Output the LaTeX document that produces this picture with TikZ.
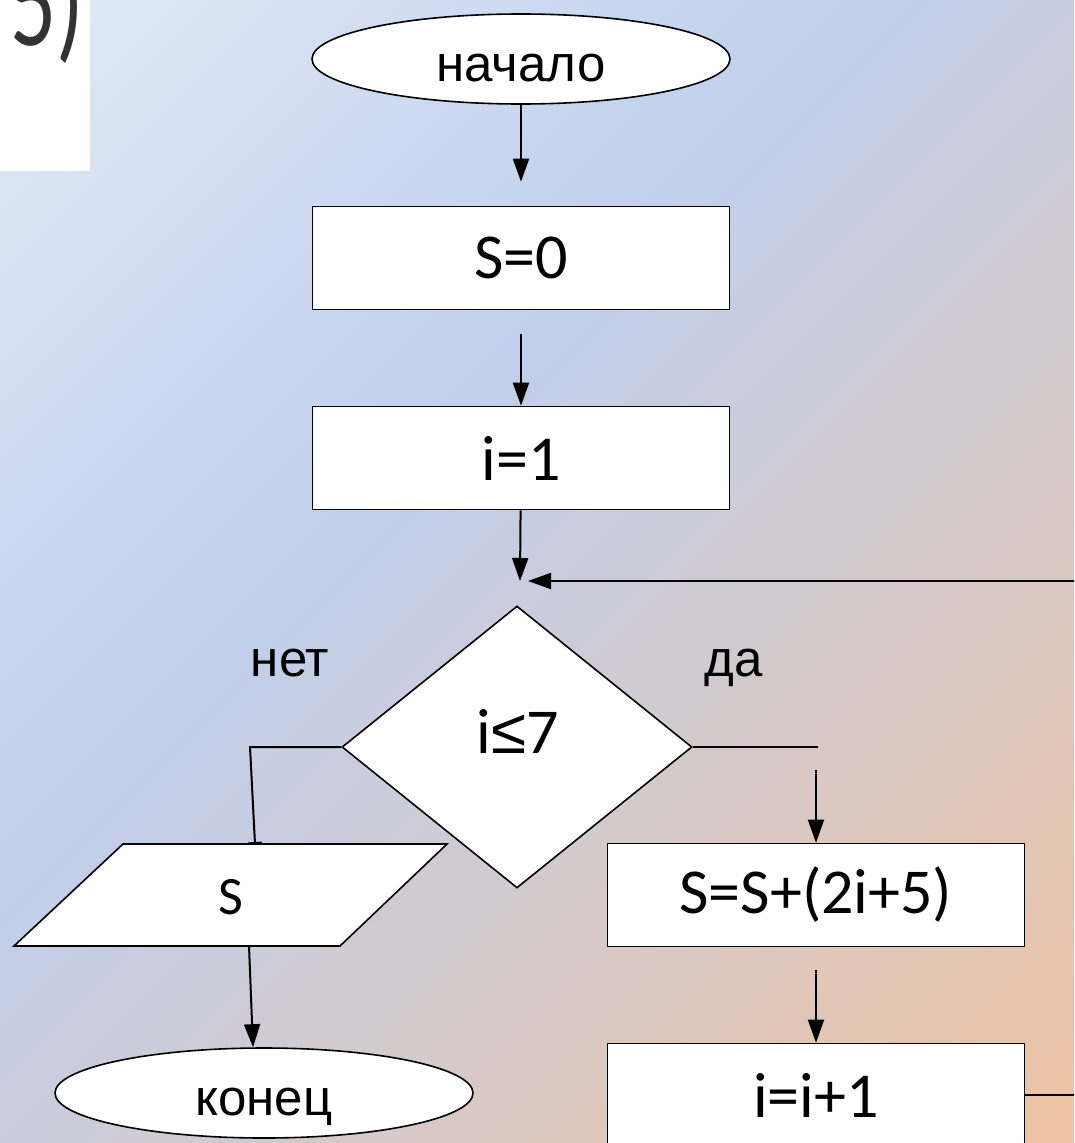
\documentclass[tikz,border=0pt]{standalone}
\usepackage{fontspec}
\setmainfont{Liberation Sans}
\newfontfamily\calibri{Carlito}
\newfontfamily\arialfont{Liberation Sans}
\usetikzlibrary{arrows.meta}
\usetikzlibrary{shapes.geometric}
\definecolor{bgtop}{RGB}{226,234,246}
\definecolor{bgmid}{RGB}{192,207,236}
\definecolor{bglow}{RGB}{238,195,162}
\pgfdeclarehorizontalshading{slidebg}{100bp}{color(0bp)=(bgtop); color(14.6bp)=(bgtop); color(42bp)=(bgmid); color(85.4bp)=(bglow); color(100bp)=(bglow)}
\newcommand\wordfont{\fontsize{51}{61}\selectfont}
\newcommand\formfont{\calibri\fontsize{64}{77}\selectfont}
\tikzset{
  block/.style={draw,fill=white,line width=1.6pt,minimum width=417pt,minimum height=103pt,inner sep=0pt,font=\formfont},
  term/.style={ellipse,draw,fill=white,line width=1.6pt,minimum width=418pt,minimum height=90pt,inner sep=0pt,font=\wordfont,text height=44pt,text depth=0pt},
  decide/.style={diamond,draw,fill=white,line width=1.6pt,minimum width=350pt,minimum height=282pt,inner sep=0pt},
  flow/.style={->,line width=2pt},
  wire/.style={line width=2pt}
}

\begin{document}
\begin{tikzpicture}[x=1pt,y=-1pt,>={Triangle[length=23pt,width=16pt]}]
\useasboundingbox (0,0) rectangle (1074,1143);
\clip (0,0) rectangle (1074,1143);
\shade[shading=slidebg,shading angle=-45] (0,0) rectangle (1074,1143);
\fill[white] (0,0) rectangle (90,171);
\node (num) at (10,45) [anchor=base west,inner sep=0pt,text=black!80,font=\calibri\fontsize{130}{150}\selectfont]{\scalebox{0.7}[1]{5)}};
\node (start) at (521,59) [term]{начало};
\node (zero) at (521,258) [block]{S=0};
\node (init) at (521,458) [block]{i=1};
\coordinate (join) at (520,581);
\node (cond) at (517,747) [decide]{};
\node (condtext) at (518,731) [font=\formfont]{i{\arialfont ≤}7};
\node (no) at (290,676) [anchor=base,font=\wordfont]{нет};
\node (yes) at (734,676) [anchor=base,font=\wordfont]{да};
\coordinate (noturn) at (250,747);
\coordinate (yesend) at (818,747);
\coordinate (yesgo) at (816,770);
\filldraw[fill=white,line width=1.6pt] (123,844) -- (447,844) -- (340,946) -- (14,946) -- cycle;
\node (out) at (231,897) [font=\calibri\fontsize{54}{65}\selectfont]{S};
\coordinate (outtop) at (255,844);
\coordinate (outbot) at (249,946);
\node (stop) at (264,1093) [term]{конец};
\node (body) at (816,895) [block]{S=S+(2i+5)};
\node (inc) at (816,1095) [block]{i=i+1};
\draw[flow,shorten >=24pt] (start) -- (zero);
\draw[flow,shorten <=24pt] (zero) -- (init);
\draw[flow] (init) -- (join);
\draw[flow,shorten >=8pt] (inc.east) -- ++(90,0) |- (join);
\draw[wire,-{Bar[width=14pt]}] (cond.west) -- (noturn) -- (outtop);
\draw[wire] (cond.east) -- (yesend);
\draw[flow] (yesgo) -- (body);
\draw[flow,shorten <=23pt] (body) -- (inc);
\draw[flow] (outbot) -- ([xshift=-11pt]stop.north);
\end{tikzpicture}
\end{document}
